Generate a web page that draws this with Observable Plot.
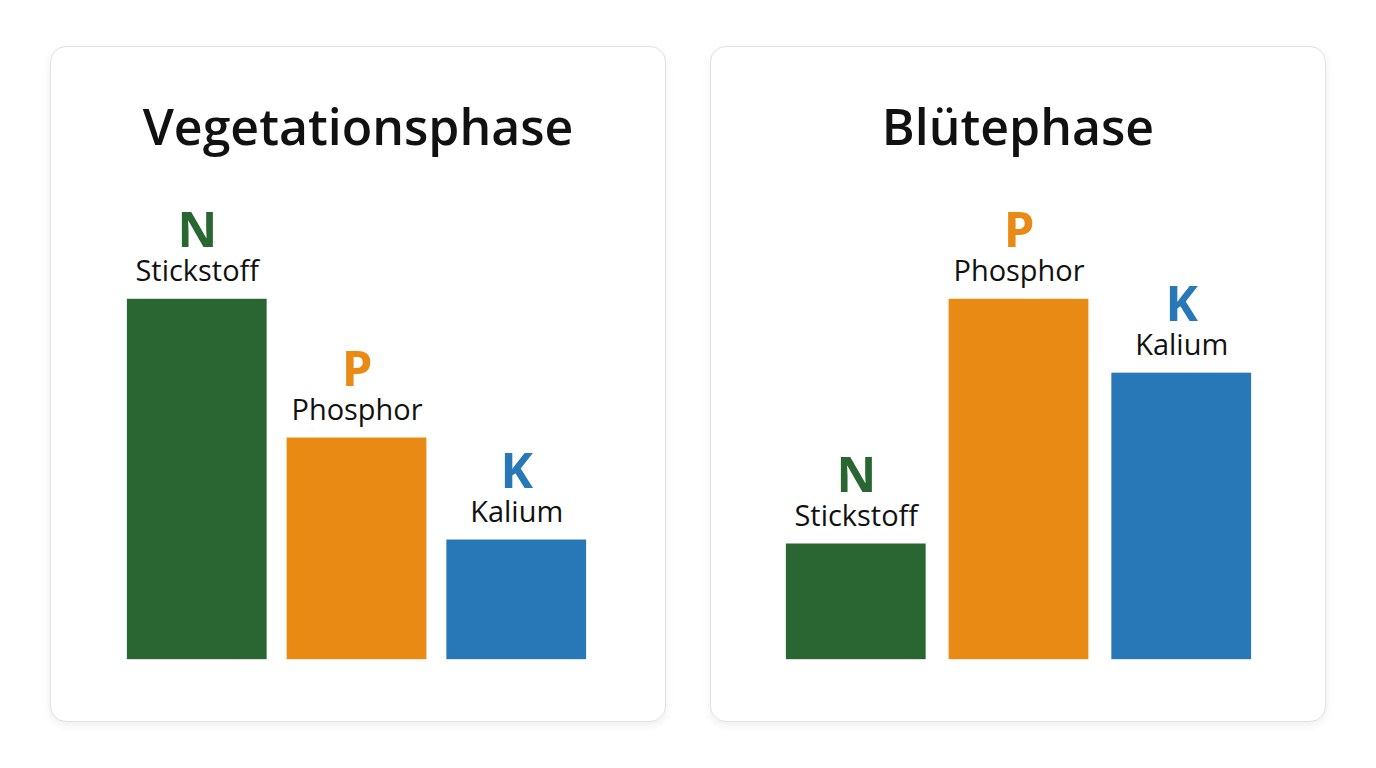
<!DOCTYPE html>
<html>
<head>
<meta charset="utf-8">
<script src="https://cdn.jsdelivr.net/npm/d3@7"></script>
<script src="https://cdn.jsdelivr.net/npm/@observablehq/plot@0.6"></script>
<style>
  html, body { margin: 0; padding: 0; background: #ffffff; }
  body { width: 1376px; height: 768px; position: relative; overflow: hidden; font-family: "Open Sans", sans-serif; }
  .card {
    position: absolute; top: 46px; width: 614px; height: 674px;
    border: 1px solid #e2e2e2; border-radius: 16px; background: #fff;
    box-shadow: 0 3px 8px rgba(0,0,0,0.07);
  }
  .title {
    position: absolute; left: 0; right: 0; top: 44px; text-align: center;
    font-size: 50px; font-weight: 600; color: #111; line-height: 70px;
  }
  .plot { position: absolute; left: -1px; top: 119px; }
</style>
</head>
<body>
<div class="card" id="c0" style="left:50px"><div class="title">Vegetationsphase</div><div class="plot"></div></div>
<div class="card" id="c1" style="left:710px"><div class="title">Blütephase</div><div class="plot"></div></div>
<script>
const nutrients = ["N", "P", "K"];
const names = ["Stickstoff", "Phosphor", "Kalium"];
const colors = ["#2a6632", "#e88a14", "#2878b8"];
const vegetationValues = [100, 61.5, 33.2];
const bluteValues = [32.1, 100, 79.5];

function build(values, marginRight, paddingInner) {
  const data = nutrients.map((n, i) => ({ letter: n, name: names[i], value: values[i], color: colors[i] }));
  return Plot.plot({
    width: 616,
    height: 530,
    marginTop: 133,
    marginBottom: 36,
    marginLeft: 76,
    marginRight,
    x: { domain: nutrients, paddingInner, paddingOuter: 0, axis: null },
    y: { domain: [0, 100], axis: null },
    style: { fontFamily: "Open Sans, sans-serif", background: "transparent" },
    marks: [
      Plot.barY(data, { x: "letter", y: "value", fill: "color" }),
      Plot.text(data, { x: "letter", y: "value", text: "name", fontSize: 29, fill: "#111", lineAnchor: "bottom", dy: -18 }),
      Plot.text(data, { x: "letter", y: "value", text: "letter", fontSize: 49, fontWeight: 700, fill: "color", lineAnchor: "bottom", dy: -52 })
    ]
  });
}
document.querySelector("#c0 .plot").appendChild(build(vegetationValues, 77, 0.124));
document.querySelector("#c1 .plot").appendChild(build(bluteValues, 73, 0.14));
</script>
</body>
</html>
